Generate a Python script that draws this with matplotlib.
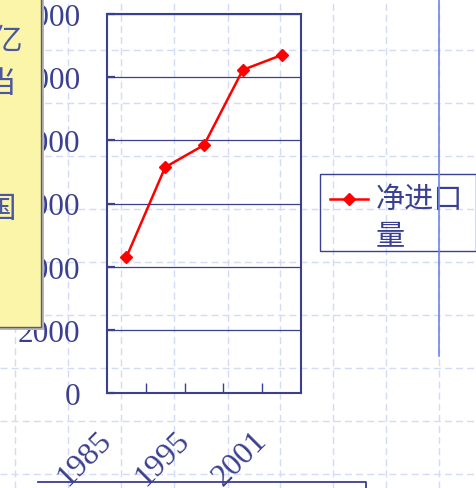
import matplotlib
matplotlib.use("Agg")
import matplotlib.pyplot as plt
from matplotlib.lines import Line2D
from matplotlib.patches import Rectangle
from matplotlib.transforms import ScaledTranslation

# ---- data -------------------------------------------------------------
year_labels = ["1985", "", "1995", "", "2001"]
net_imports = [4300, 7150, 7850, 10230, 10700]
series_name = "净进口量"
y_ticks = [0, 2000, 4000, 6000, 8000, 10000, 12000]
side_note_chars = ["亿", "当", "国"]

# ---- styling ----------------------------------------------------------
NAVY = "#3b3f8f"
RED = "#ff0000"
DASH = "#d3dbf6"
W, H = 477, 489
DPI = 100

def fx(x):
    return x / W

def fy(y):
    return 1 - y / H

fig = plt.figure(figsize=(W / DPI, H / DPI), dpi=DPI)
fig.patch.set_facecolor("white")

# slide background guide grid (dashed)
for gx in [15, 68, 121, 174, 228, 280, 333, 386, 439]:
    fig.add_artist(Line2D([fx(gx), fx(gx)], [0, 1], transform=fig.transFigure,
                          color=DASH, lw=1.0, ls=(0, (5, 3)), zorder=-2))
for gy in [51, 104, 157, 210, 263, 316, 369, 422, 475]:
    fig.add_artist(Line2D([0, 1], [fy(gy), fy(gy)], transform=fig.transFigure,
                          color=DASH, lw=1.0, ls=(0, (5, 3)), zorder=-2))

# solid guide line on the right
fig.add_artist(Line2D([fx(439), fx(439)], [fy(0), fy(357)], transform=fig.transFigure,
                      color="#6f84ea", lw=1.2, zorder=6))

# ---- chart ------------------------------------------------------------
ax = fig.add_axes([fx(107), fy(394), (301 - 107) / W, (394 - 15) / H])
ax.set_facecolor("none")
xs = list(range(len(net_imports)))
line, = ax.plot(xs, net_imports, color=RED, lw=1.8, marker="D", ms=6.3,
                mec=RED, mfc=RED, zorder=3)

ax.set_xlim(-0.5, len(net_imports) - 0.5)
ax.set_ylim(y_ticks[0], y_ticks[-1])
ax.set_yticks(y_ticks)
ax.set_yticklabels([str(v) for v in y_ticks], family="Liberation Serif",
                   fontsize=22.5, color=NAVY)
ax.yaxis.grid(True, color=NAVY, lw=0.9)
ax.set_axisbelow(True)

ax.set_xticks(xs)
ax.set_xticklabels(year_labels, family="Liberation Serif", fontsize=23,
                   color=NAVY, rotation=45, ha="right", va="top")
ax.set_xticks([x + 0.5 for x in xs[:-1]], minor=True)
ax.tick_params(axis="x", which="major", length=0, pad=23.5)
ax.tick_params(axis="x", which="minor", direction="in", length=7, width=1.0,
               color=NAVY)
ax.tick_params(axis="y", direction="in", length=6, width=1.6, color=NAVY,
               pad=19.5)
shift = ScaledTranslation(-9 / DPI, 0, fig.dpi_scale_trans)
for lab in ax.get_xticklabels():
    lab.set_transform(lab.get_transform() + shift)

for sp in ax.spines.values():
    sp.set_color(NAVY)
    sp.set_linewidth(1.5)

# ---- legend -----------------------------------------------------------
fig.add_artist(Rectangle((fx(320.5), fy(252)), (476 - 320.5) / W, (252 - 175) / H,
                         transform=fig.transFigure, fill=False,
                         edgecolor=NAVY, lw=1.0, zorder=5))
fig.add_artist(Line2D([fx(330), fx(368)], [fy(200), fy(200)],
                      transform=fig.transFigure, color=line.get_color(),
                      lw=line.get_linewidth(), zorder=5))
fig.add_artist(Line2D([fx(349)], [fy(200)], transform=fig.transFigure,
                      color=line.get_color(), marker="D", ms=6.3, ls="none",
                      zorder=5))
fig.text(fx(376), fy(200), series_name[:3], family="Noto Sans CJK SC",
         fontsize=21, color=NAVY, ha="left", va="center", zorder=5)
fig.text(fx(376), fy(237), series_name[3:], family="Noto Sans CJK SC",
         fontsize=21, color=NAVY, ha="left", va="center", zorder=5)

# ---- note box on the left --------------------------------------------
fig.add_artist(Rectangle((fx(-10), fy(331)), (44 + 10) / W, (331 + 10) / H,
                         transform=fig.transFigure, facecolor="#b8b8b8",
                         edgecolor="none", zorder=7))
fig.add_artist(Rectangle((fx(-10), fy(328)), (41 + 10) / W, (328 + 10) / H,
                         transform=fig.transFigure, facecolor="#faf5a8",
                         edgecolor="#5b5b6b", lw=1.0, zorder=8))
for ch, (rx, cy) in zip(side_note_chars, [(22, 41), (16, 85), (16, 210)]):
    fig.text(fx(rx), fy(cy), ch, family="Noto Sans CJK SC", fontsize=22,
             color="#4b57a0", ha="right", va="center", zorder=9,
             fontweight="light")

# frame of the text box along the bottom edge
fig.add_artist(Line2D([fx(38), fx(366), fx(366)], [fy(482.5), fy(482.5), fy(495)],
                      transform=fig.transFigure, color=NAVY, lw=1.3, zorder=5))

fig.savefig("out.png", dpi=DPI)
